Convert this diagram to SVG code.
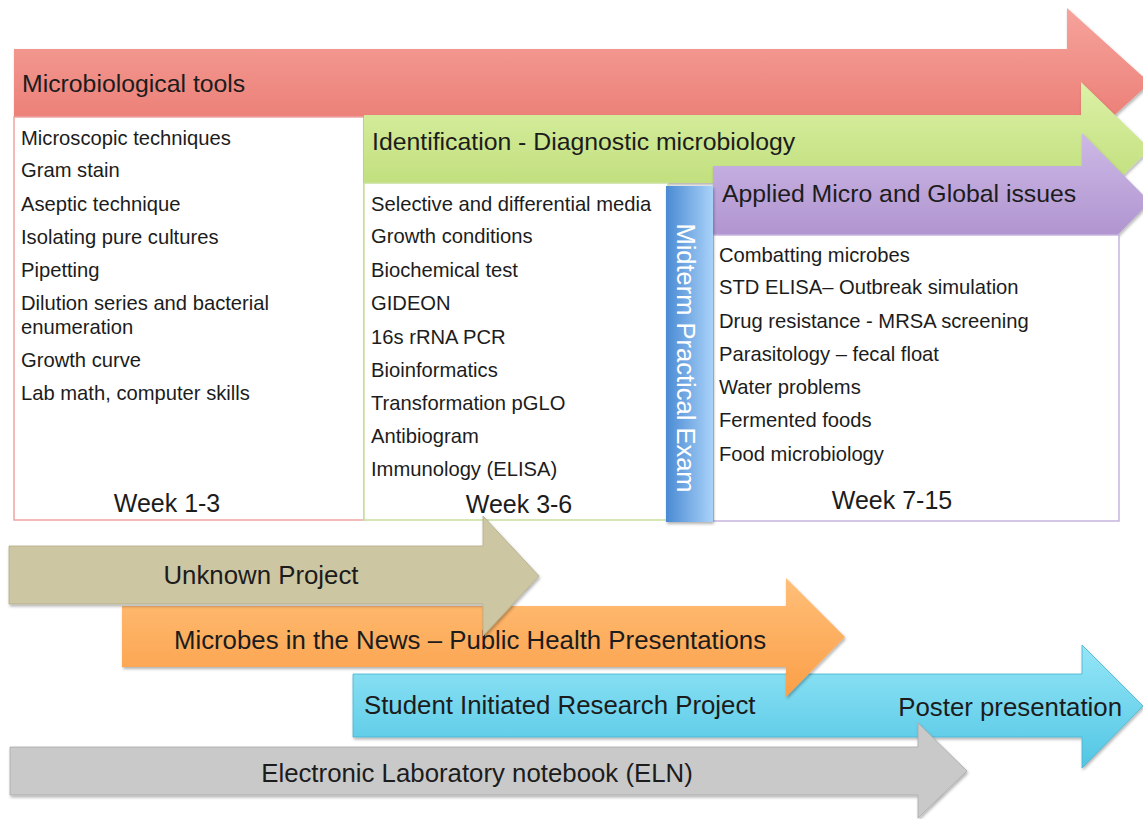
<svg xmlns="http://www.w3.org/2000/svg" width="1143" height="819" viewBox="0 0 1143 819">
<defs>
<linearGradient id="gRed" x1="0" y1="0" x2="0" y2="1"><stop offset="0" stop-color="#f6a39c"/><stop offset="1" stop-color="#e8746b"/></linearGradient>
<linearGradient id="gGreen" x1="0" y1="0" x2="0" y2="1"><stop offset="0" stop-color="#dcf1a6"/><stop offset="1" stop-color="#b9da72"/></linearGradient>
<linearGradient id="gPurple" x1="0" y1="0" x2="0" y2="1"><stop offset="0" stop-color="#cdb9e6"/><stop offset="1" stop-color="#a688c8"/></linearGradient>
<linearGradient id="gBlue" x1="0" y1="0" x2="1" y2="0"><stop offset="0" stop-color="#4a8ad4"/><stop offset="1" stop-color="#a9d2f8"/></linearGradient>
<linearGradient id="gOrange" x1="0" y1="0" x2="0" y2="1"><stop offset="0" stop-color="#ffbf78"/><stop offset="1" stop-color="#fb9f48"/></linearGradient>
<linearGradient id="gCyan" x1="0" y1="0" x2="0" y2="1"><stop offset="0" stop-color="#95e6f7"/><stop offset="1" stop-color="#52c6e4"/></linearGradient>
<filter id="sh" x="-5%" y="-20%" width="110%" height="150%"><feDropShadow dx="1" dy="2" stdDeviation="1.5" flood-color="#000" flood-opacity="0.3"/></filter>
</defs>
<style>
text{font-family:"Liberation Sans",Arial,sans-serif;fill:#1c1c1c}
.hd{font-size:24.8px}
.it{font-size:20.2px}
.wk{font-size:25px}
.lb{font-size:25.8px}
.box{fill:#fff;stroke-width:1.5}
</style>
<rect width="1143" height="819" fill="#fff"/>

<g id="arrow-red"><polygon filter="url(#sh)" fill="url(#gRed)" points="14,49 1067,49 1067,8 1150,83 1067,158 1067,117 14,117"/>
<text class="hd" x="22" y="92">Microbiological tools</text></g>

<g id="red-box"><rect class="box" x="14" y="117" width="350" height="403" stroke="#eba5a2"/>
<text class="it" x="21" y="145">Microscopic techniques</text>
<text class="it" x="21" y="177">Gram stain</text>
<text class="it" x="21" y="211">Aseptic technique</text>
<text class="it" x="21" y="244">Isolating pure cultures</text>
<text class="it" x="21" y="277">Pipetting</text>
<text class="it" x="21" y="310">Dilution series and bacterial</text>
<text class="it" x="21" y="334">enumeration</text>
<text class="it" x="21" y="367">Growth curve</text>
<text class="it" x="21" y="400">Lab math, computer skills</text>
<text class="wk" x="167" y="512" text-anchor="middle">Week 1-3</text>
</g>

<g id="arrow-green"><polygon filter="url(#sh)" fill="url(#gGreen)" points="364,115 1081,115 1081,82 1150,149 1081,216 1081,183 364,183"/>
<text class="hd" x="372" y="150">Identification - Diagnostic microbiology</text></g>

<g id="green-box"><rect class="box" x="364" y="183" width="304" height="337" stroke="#c8df9c"/>
<text class="it" x="371" y="211">Selective and differential media</text>
<text class="it" x="371" y="243">Growth conditions</text>
<text class="it" x="371" y="277">Biochemical test</text>
<text class="it" x="371" y="310">GIDEON</text>
<text class="it" x="371" y="344">16s rRNA PCR</text>
<text class="it" x="371" y="377">Bioinformatics</text>
<text class="it" x="371" y="410">Transformation pGLO</text>
<text class="it" x="371" y="443">Antibiogram</text>
<text class="it" x="371" y="476">Immunology (ELISA)</text>
<text class="wk" x="519" y="513" text-anchor="middle">Week 3-6</text>
</g>

<g id="arrow-purple"><polygon filter="url(#sh)" fill="url(#gPurple)" points="713,166 1082,166 1082,133 1150,202 1082,271 1082,235 713,235"/>
<text class="hd" x="722" y="202">Applied Micro and Global issues</text></g>

<g id="purple-box"><rect class="box" x="713" y="235" width="406" height="286" stroke="#c6b4de"/>
<text class="it" x="719" y="262">Combatting microbes</text>
<text class="it" x="719" y="294">STD ELISA– Outbreak simulation</text>
<text class="it" x="719" y="328">Drug resistance - MRSA screening</text>
<text class="it" x="719" y="361">Parasitology – fecal float</text>
<text class="it" x="719" y="394">Water problems</text>
<text class="it" x="719" y="427">Fermented foods</text>
<text class="it" x="719" y="461">Food microbiology</text>
<text class="wk" x="892" y="509" text-anchor="middle">Week 7-15</text>
</g>

<g id="midterm"><rect filter="url(#sh)" x="666" y="186" width="47" height="336" fill="url(#gBlue)"/>
<text transform="translate(677,358) rotate(90)" text-anchor="middle" style="font-size:25.5px;fill:#fff">Midterm Practical Exam</text></g>

<g id="connectors">
<g id="arrow-cyan"><polygon filter="url(#sh)" fill="url(#gCyan)" stroke="#45b3cf" stroke-width="0.8" points="353,674 1082,674 1082,645 1143,706 1082,768 1082,737 353,737"/>
<text class="lb" x="364" y="714">Student Initiated Research Project</text>
<text class="lb" x="1122" y="716" text-anchor="end">Poster presentation</text></g>
<g id="arrow-gray"><polygon filter="url(#sh)" fill="#c9c9c9" stroke="#a9a9a9" stroke-width="0.8" points="10,747 918,747 918,723 967,771 918,818 918,795 10,795"/>
<text class="lb" x="477" y="782" text-anchor="middle">Electronic Laboratory notebook (ELN)</text></g>
<g id="arrow-orange"><polygon filter="url(#sh)" fill="url(#gOrange)" points="122,606 786,606 786,578 845,637 786,697 786,667 122,667"/>
<text class="lb" x="470" y="649" text-anchor="middle">Microbes in the News – Public Health Presentations</text></g>
<g id="arrow-tan"><polygon filter="url(#sh)" fill="#cdc6a2" stroke="#b3ac88" stroke-width="0.8" points="9,546 483,546 483,516 539,576 483,636 483,604 9,604"/>
<text class="lb" x="261" y="584" text-anchor="middle">Unknown Project</text></g>
</g>
</svg>
